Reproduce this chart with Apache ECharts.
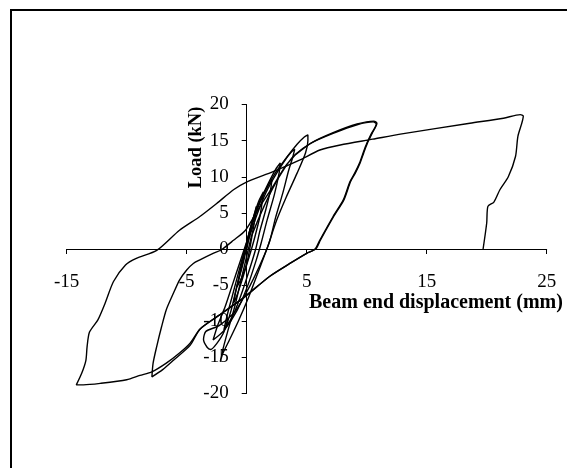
<!DOCTYPE html>
<html>
<head>
<meta charset="utf-8">
<script src="https://cdn.jsdelivr.net/npm/echarts@6/dist/echarts.min.js"></script>
<style>html,body{margin:0;padding:0;background:#fff}#c{width:567px;height:468px}</style>
</head>
<body>
<div id="c"></div>
<script>
// Tick labels
var xTicks = [-15, -5, 5, 15, 25];
var yTicks = [-20, -15, -10, -5, 0, 5, 10, 15, 20];
var xTitle = 'Beam end displacement (mm)';
var yTitle = 'Load (kN)';

// Hysteresis path, cycle by cycle: [displacement (mm), load (kN)]
var cycle1 = [[0,0],[0.2,1.6],[0.45,3.6],[0.7,5.2],[0.8,5.9],[0.72,4.5],[0.5,2.4],[0.25,0],[0,-2],[-0.4,-3.9],[-0.8,-5.2],[-0.62,-3.6],[-0.4,-1.8],[-0.2,-0.5]];
var cycle2 = [[-0.2,-0.5],[0.2,2.2],[0.6,4.6],[1.0,6.6],[1.3,7.6],[1.4,7.9],[1.3,6.6],[1.1,4.5],[0.7,1.8],[0.4,0],[0,-2.2],[-0.5,-4.9],[-0.9,-6.8],[-1.1,-7.5],[-0.9,-5.8],[-0.6,-3.8],[-0.3,-1.6],[-0.05,0.4]];
var cycle3 = [[-0.05,0.4],[0.4,3],[0.9,5.6],[1.5,7.9],[1.9,9.1],[2.1,9.6],[2.0,8.3],[1.6,5.5],[1.1,2.5],[0.75,0],[0.2,-3],[-0.5,-6.5],[-1.2,-9.4],[-1.9,-11.2],[-1.6,-9],[-1.2,-6.5],[-0.8,-4],[-0.4,-1.5],[0,0.8]];
var cycle4 = [[0,0.8],[0.5,3.9],[1.1,6.6],[1.8,9.1],[2.4,11],[2.8,11.9],[2.7,10.5],[2.3,7.5],[1.7,4],[1.2,0.8],[0.8,-1.5],[0.1,-5],[-0.8,-8.5],[-1.9,-11.3],[-2.8,-12.6],[-2.4,-10.5],[-1.8,-8],[-1.2,-5],[-0.6,-2],[0,1]];
var cycle5 = [[0,1],[0.6,4.5],[1.4,7.6],[2.3,10.3],[3.2,12.4],[3.7,13.4],[4.0,13.8],[3.8,12.5],[3.5,10.9],[3.0,7.7],[2.4,4.3],[1.9,1],[1.3,-1.5],[0.3,-5],[-0.9,-8.5],[-2.3,-10.6],[-3.4,-11.4],[-3.6,-12.5],[-3.3,-13.6],[-3.0,-13.9],[-2.5,-13.1],[-1.9,-11.5],[-1.3,-8.5],[-0.8,-5],[-0.3,-2],[0.1,1]];
var cycle6 = [[0.1,1],[0.8,4.5],[1.6,7.8],[2.5,10.5],[3.4,12.8],[4.2,14.5],[4.8,15.5],[5.1,15.8],[5.1,15.0],[4.9,13.3],[4.2,10.5],[3.3,7.2],[2.5,4.0],[1.7,0.1],[1.0,-3],[0.2,-6.5],[-0.7,-10],[-1.5,-12.8],[-2.0,-14.5],[-2.2,-15.6],[-2.0,-14],[-1.6,-11.5],[-1.0,-8],[-0.5,-4.5],[0,-1],[0.4,1.8]];
var cycle7 = [[0.4,1.8],[1.2,5],[2.2,8.5],[3.2,11.3],[4.0,13.0],[5.3,14.6],[7.2,16.0],[9.2,17.2],[10.55,17.6],[10.8,17.3],[10.4,16.0],[10.0,14.6],[9.7,13.3],[9.4,11.9],[9.0,10.5],[8.6,9.3],[8.05,6.8],[7.2,4.5],[6.1,1.25],[5.7,0],[5.0,-0.6],[3.6,-2.0],[1.9,-3.8],[-0.3,-6.8],[-2.5,-9.4],[-3.9,-11.1],[-4.7,-13.3],[-6.1,-15.4],[-7.0,-16.7],[-7.9,-17.7],[-7.8,-15.8],[-7.5,-13.5],[-7.1,-10.8],[-6.7,-8.4],[-6.1,-6.1],[-5.6,-4.3],[-5.0,-2.9],[-4.45,-2.0],[-3.9,-1.5],[-2.8,-0.6],[-2.1,-0.1],[-1.1,1.2],[-0.1,2.6],[1.0,5.6],[2.2,8.7],[3.2,11.4],[4.1,13.1]];
var cycle8 = [[4.1,13.1],[5.4,14.7],[7.2,16.1],[9.2,17.3],[10.6,17.7],[10.85,17.4],[10.45,16.0],[10.05,14.6],[9.75,13.3],[9.45,11.9],[9.05,10.5],[8.65,9.3],[8.1,6.8],[7.25,4.5],[6.15,1.25],[5.75,0],[5.0,-0.6],[3.6,-2.0],[1.9,-3.8],[-0.3,-6.8],[-2.5,-9.4],[-3.9,-11.1],[-4.7,-13.0],[-5.6,-14.4],[-6.7,-15.8],[-7.9,-17.0],[-8.9,-17.5],[-10,-18.1],[-12.2,-18.6],[-13.6,-18.8],[-14.2,-18.8],[-13.75,-17.2],[-13.4,-15.4],[-13.3,-13.5],[-13.1,-11.5],[-12.4,-9.8],[-11.8,-7.5],[-11.1,-4.5],[-10.1,-2.2],[-9.2,-1.3],[-7.5,-0.2],[-5.6,2.6],[-3.9,4.5],[-2.5,6.3],[-1.1,8.2],[-0.1,9.2],[2.2,10.7],[4.4,12.3],[6.1,13.7],[7.8,14.4],[10.5,15.2],[12.8,15.9],[18.6,17.4],[21.4,18.1],[22.8,18.6],[23.05,18.4],[22.6,15.6],[22.4,12.8],[21.8,10.0],[21.1,8.2],[20.6,6.5],[20.1,5.9],[20.0,3.6],[19.7,0]];

var cycles = [cycle1, cycle2, cycle3, cycle4, cycle5, cycle6, cycle7, cycle8];

var chart = echarts.init(document.getElementById('c'), null, {renderer: 'canvas'});
var font = '"Liberation Serif", "Times New Roman", serif';
var axisStyle = {color: '#000', width: 1};

chart.setOption({
  animation: false,
  backgroundColor: '#fff',
  grid: {left: 66.7, right: 20.3, top: 104.5, bottom: 74.5, containLabel: false},
  xAxis: {
    type: 'value', min: -15, max: 25, position: 'bottom', offset: -144.5,
    axisLine: {onZero: false, lineStyle: axisStyle},
    axisTick: {show: true, length: 5, inside: false, customValues: xTicks, lineStyle: axisStyle},
    axisLabel: {customValues: xTicks, margin: 24, color: '#000', fontFamily: font, fontSize: 19},
    splitLine: {show: false}
  },
  yAxis: {
    type: 'value', min: -20, max: 20, interval: 5, position: 'left', offset: -180,
    axisLine: {onZero: false, lineStyle: axisStyle},
    axisTick: {show: true, length: 5, inside: false, lineStyle: axisStyle},
    axisLabel: {margin: 18, color: '#000', fontFamily: font, fontSize: 19,
      customValues: yTicks},
    splitLine: {show: false}
  },
  graphic: [
    {type: 'rect', shape: {x: 11, y: 10, width: 620, height: 520}, style: {fill: 'none', stroke: '#000', lineWidth: 2}, z: 100},
    {type: 'text', x: 309, y: 303, style: {text: xTitle, font: 'bold 20px ' + font, fill: '#000', textAlign: 'left', textVerticalAlign: 'middle'}, z: 100},
    {type: 'text', x: 196.5, y: 147.5, rotation: Math.PI / 2, style: {text: yTitle, font: 'bold 18.5px ' + font, fill: '#000', textAlign: 'center', textVerticalAlign: 'middle'}, z: 100}
  ],
  series: cycles.map(function (c) {
    return {
      type: 'line', data: c, showSymbol: false, symbol: 'none', smooth: 0.25,
      lineStyle: {color: '#000', width: 1.4}, z: 3
    };
  })
});
</script>
</body>
</html>
